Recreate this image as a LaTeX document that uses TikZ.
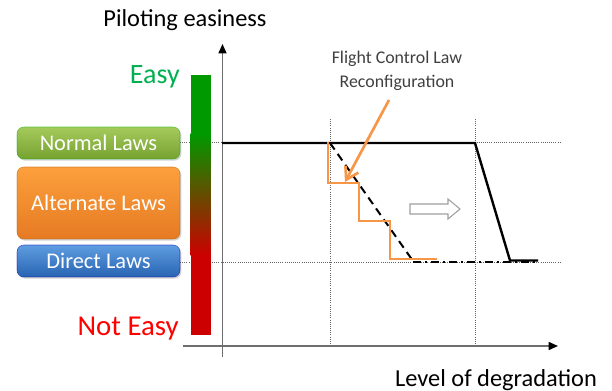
\documentclass[tikz,border=0pt]{standalone}
\usepackage{fontspec}
\setmainfont{Carlito}
\usetikzlibrary{arrows.meta,shadows}
\definecolor{ezgreen}{RGB}{0,153,0}
\definecolor{ezred}{RGB}{204,0,0}
\definecolor{txtgreen}{RGB}{0,176,80}
\definecolor{txtred}{RGB}{255,0,0}
\definecolor{orangeln}{RGB}{247,150,70}
\definecolor{axisgray}{RGB}{110,110,110}
\tikzset{
  lawbox/.style={draw=#1!70!black, draw opacity=0.5, rounded corners=5pt, minimum width=163*0.75pt, text=white, font=\fontsize{16.8}{18}\selectfont, inner sep=0pt, drop shadow={shadow xshift=1pt, shadow yshift=-1.2pt, opacity=0.35}},
  grid/.style={densely dotted, gray!80!black, line width=0.6pt},
  curve/.style={line width=1.8pt, black},
  label/.style={inner sep=0pt, anchor=center},
}
\begin{document}
\begin{tikzpicture}[x=0.75pt,y=-0.75pt]
\useasboundingbox (0,0) rectangle (612,391);
% grid lines
\draw[grid] (180,142) -- (560,142);
\draw[grid] (180,262) -- (560,262);
\draw[grid] (330,119) -- (330,345);
\draw[grid] (475,119) -- (475,345);
% colour bar
\fill[ezgreen] (190.5,75) rectangle (210.5,134);
\shade[top color=ezgreen, bottom color=ezred] (190.5,134) rectangle (210.5,255.5);
\fill[ezred] (190.5,255) rectangle (210.5,335);
% axes
\coordinate (xs) at (183,346);
\coordinate (xe) at (558,346);
\coordinate (ys) at (222.5,357);
\coordinate (ye) at (222.5,44);
\draw[axisgray, line width=1.2pt, -{Triangle[black,length=7pt,width=6pt]}] (xs) -- (xe);
\draw[axisgray, line width=1.2pt, -{Triangle[black,length=7pt,width=6pt]}] (ys) -- (ye);
% curves
\draw[curve] (222,143) -- (475,143) -- (510,260.5) -- (538,260.5);
\draw[black, line width=1.5pt, dash pattern=on 6pt off 4pt] (330,143) -- (413,261);
\draw[black, line width=1.5pt, dash pattern=on 6pt off 3pt on 1.5pt off 3pt] (413,262) -- (538,262);
\draw[orangeln, line width=2pt] (328,142) -- (328,183) -- (359,183) -- (359,221) -- (390,221) -- (390,259) -- (437,259);
% hollow arrow
\draw[gray!75, fill=white, line width=0.8pt] (410,204) -- (448,204) -- (448,199) -- (460,209) -- (448,219) -- (448,214) -- (410,214) -- cycle;
% reconfiguration label and arrow
\node[label, align=center, text=black!75, font=\fontsize{13.4}{17.5}\selectfont] (fc) at (397,71) {Flight Control Law\\Reconfiguration};
\coordinate (fa) at (389,100);
\coordinate (fb) at (345,182);
\draw[orangeln, line width=2pt, -{Straight Barb[length=9pt,width=11pt]}] (fa) -- (fb);
% law boxes
\node[lawbox=green, top color={rgb,255:red,165;green,202;blue,92}, bottom color={rgb,255:red,118;green,162;blue,48}, minimum height=32*0.75pt] (nl) at (98.5,143) {Normal Laws};
\node[lawbox=orange, top color={rgb,255:red,252;green,160;blue,60}, bottom color={rgb,255:red,230;green,122;blue,35}, minimum height=72*0.75pt] (al) at (98.5,203) {Alternate Laws};
\node[lawbox=blue, top color={rgb,255:red,95;green,157;blue,225}, bottom color={rgb,255:red,40;green,100;blue,178}, minimum height=32*0.75pt] (dl) at (98.5,261) {Direct Laws};
% texts
\node[label, font=\fontsize{18.3}{20}\selectfont] (pe) at (185,20) {Piloting easiness};
\node[label, anchor=east, text=txtgreen, font=\fontsize{21}{24}\selectfont] (ez) at (180,77) {Easy};
\node[label, anchor=east, text=txtred, font=\fontsize{21.6}{24}\selectfont] (ne) at (179,329) {Not Easy};
\node[label, font=\fontsize{18.3}{20}\selectfont] (ld) at (496,380) {Level of degradation};
\end{tikzpicture}
\end{document}
